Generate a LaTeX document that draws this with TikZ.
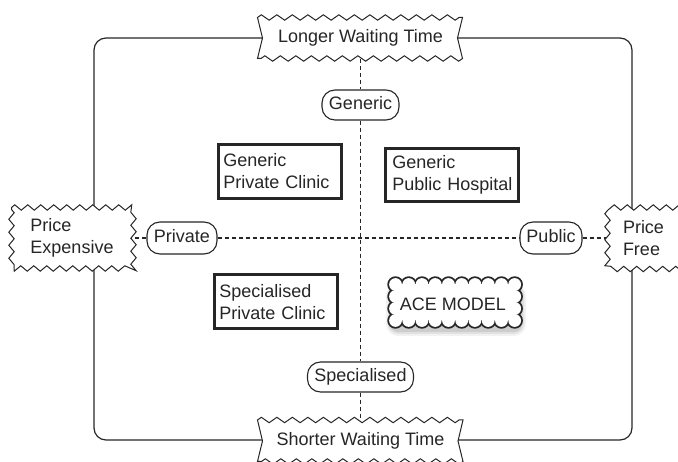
\documentclass[tikz,border=0pt]{standalone}
\usepackage{fontspec}
\setmainfont{Liberation Sans}
\usetikzlibrary{decorations.pathmorphing,calc}
\pgfdeclarelayer{back}
\pgfdeclarelayer{mid}
\pgfsetlayers{back,mid,main}
\definecolor{ink}{HTML}{262626}
\begin{document}
\begin{tikzpicture}[x=1pt,y=-1pt,
  every node/.style={font=\fontsize{18}{22}\selectfont, text=ink},
  pill/.style={draw=ink, line width=1.1pt, fill=white, rounded corners=13pt, inner xsep=7pt, inner ysep=0pt, text height=13pt, text depth=3pt},
  qbox/.style={draw=ink, line width=2.6pt, fill=white, align=left, inner xsep=5pt, inner ysep=0pt},
  tapetext/.style={inner sep=0pt},
  tapeline/.style={draw=ink, line width=1pt, fill=white, line join=miter},
  zig/.style={decoration={zigzag, segment length=13pt, amplitude=2.7pt}},
  tzig/.style={decoration={zigzag, segment length=15.5pt, amplitude=2.7pt}},
  axisline/.style={draw=ink, line width=1.1pt, dash pattern=on 4pt off 3pt},
  frame/.style={draw=ink, line width=1.2pt, rounded corners=12pt},
  puffline/.style={draw=ink, line width=3.6pt, fill=white},
  pufffill/.style={fill=white}
]
\useasboundingbox (0,0) rectangle (678,462);

% tape texts
\node[tapetext] (top) at (360.5,38) {Longer Waiting Time};
\node[tapetext] (bot) at (360.5,441) {Shorter Waiting Time};
\node[tapetext, align=left] (lt) at (72,238) {Price\\Expensive};
\node[tapetext, align=left] (rt) at (643.5,238) {Price\\Free};

% pills
\node[pill, minimum height=30pt] (gen) at (360.5,105) {Generic};
\node[pill, minimum height=30pt] (spec) at (360.5,377) {Specialised};
\node[pill, minimum height=32pt] (priv) at (182,238) {Private};
\node[pill, minimum height=32pt, inner xsep=6.5pt] (pub) at (551,238) {Public};

% boxes
\node[qbox, minimum width=123.4pt, minimum height=54.4pt, text width=113.4pt] (gpc) at (280,171.5) {Generic\\Private Clinic};
\node[qbox, inner xsep=7pt, text width=119.4pt, minimum width=133.4pt, minimum height=53.4pt] (gph) at (452,175) {Generic\\\mbox{Public Hospital}};
\node[qbox, minimum width=123.4pt, minimum height=54pt, text width=113.4pt] (spc) at (276,301.6) {Specialised\\Private Clinic};

% cloud text
\node[inner sep=0pt] (ace) at (453,304) {ACE MODEL};

\begin{pgfonlayer}{back}
  \draw[frame] (94,38) rectangle (632,440);
  \draw[axisline] (top.center) -- (gen) -- (spec) -- (bot.center);
  \draw[axisline] (lt.center) -- (priv) -- (pub) -- (rt.center);
  % soft shadow of the cloud
  \fill[black, opacity=0.05, rounded corners=12pt] (386,284) rectangle (526,336);
  \fill[black, opacity=0.07, rounded corners=10pt] (388,284) rectangle (524,334);
  \fill[black, opacity=0.09, rounded corners=8pt] (390,284) rectangle (522,332);
\end{pgfonlayer}

\begin{pgfonlayer}{mid}
  % top tape
  \path[tapeline] (257.5,17.5) decorate[tzig]{-- (462.5,17.5)} -- (457.5,38) -- (462.5,58.5)
     decorate[tzig]{-- (257.5,58.5)} -- (262.5,38) -- cycle;
  % bottom tape
  \path[tapeline] (257.5,420) decorate[tzig]{-- (463,420)} -- (458,441) -- (463,461.5)
     decorate[tzig]{-- (257.5,461.5)} -- (262.5,441) -- cycle;
  % left tape
  \path[tapeline] (11.5,207.5) decorate[zig]{-- (133.5,207.5) -- (133.5,268.5) -- (11.5,268.5) -- (11.5,207.5)} -- cycle;
  % right tape
  \path[tapeline] (741,207.5) decorate[zig]{-- (607.5,207.5) -- (607.5,269) -- (741,269)};
  % cloud: outline pass
  \foreach \i in {0,...,9}{
    \path[puffline] ({395.5+\i*13.244},284.5) circle[radius=6.4pt];
    \path[puffline] ({395.5+\i*13.244},320.5) circle[radius=6.4pt];
  }
  \foreach \j in {1,2}{
    \path[puffline] (395.5,{284.5+\j*12}) circle[radius=6.4pt];
    \path[puffline] (514.7,{284.5+\j*12}) circle[radius=6.4pt];
  }
  % cloud: fill pass
  \foreach \i in {0,...,9}{
    \path[pufffill] ({395.5+\i*13.244},284.5) circle[radius=6.4pt];
    \path[pufffill] ({395.5+\i*13.244},320.5) circle[radius=6.4pt];
  }
  \foreach \j in {1,2}{
    \path[pufffill] (395.5,{284.5+\j*12}) circle[radius=6.4pt];
    \path[pufffill] (514.7,{284.5+\j*12}) circle[radius=6.4pt];
  }
  \path[pufffill] (395.5,284.5) rectangle (514.7,320.5);
\end{pgfonlayer}
\end{tikzpicture}
\end{document}
